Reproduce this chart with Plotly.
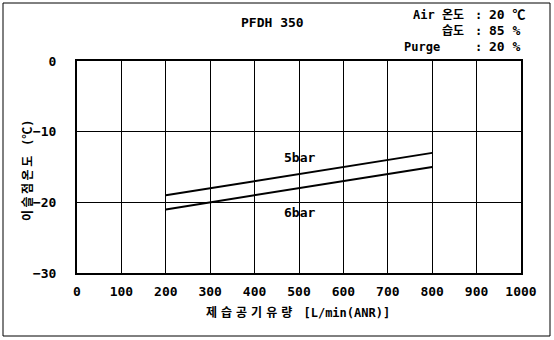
import plotly.graph_objects as go

flow_5bar = [200, 800]
dew_5bar = [-19, -13]
flow_6bar = [200, 800]
dew_6bar = [-21, -15]
x_ticks = [0, 100, 200, 300, 400, 500, 600, 700, 800, 900, 1000]
y_ticks = [0, -10, -20, -30]

FONT = "DejaVu Sans Mono, Noto Sans CJK KR"

fig = go.Figure()
fig.add_trace(go.Scatter(x=flow_5bar, y=dew_5bar, mode="lines",
                         line=dict(color="black", width=2), showlegend=False))
fig.add_trace(go.Scatter(x=flow_6bar, y=dew_6bar, mode="lines",
                         line=dict(color="black", width=2), showlegend=False))

fig.add_annotation(x=500, y=-13.6, text="<b>5bar</b>", showarrow=False,
                   font=dict(size=13, family=FONT, color="black"))
fig.add_annotation(x=500, y=-21.4, text="<b>6bar</b>", showarrow=False,
                   font=dict(size=13, family=FONT, color="black"))

L, R, T, B = 77, 521, 61, 273
def pp(text, x, y, anchor="center", rot=0, size=12):
    fig.add_annotation(x=(x - L) / (R - L), y=(B - y) / (B - T), xref="paper", yref="paper",
                       text=text, showarrow=False, xanchor=anchor, yanchor="middle",
                       textangle=rot,
                       font=dict(size=size, family=FONT, color="black"))

pp("<b>PFDH 350</b>", 272, 22, size=13)
# condition box, top right
pp("<b>Air 온도</b>", 466, 15, "right")
pp("<b>습도</b>", 466, 31, "right")
pp("<b>Purge</b>", 402, 47, "left")
for yy in (15, 31, 47):
    pp("<b>:</b>", 478, yy)
pp("<b>20 ℃</b>", 487, 15, "left", size=13)
pp("<b>85 %</b>", 487, 31, "left", size=13)
pp("<b>20 %</b>", 487, 47, "left", size=13)

pp('<b><span style="letter-spacing:2.5px">이슬점온도</span> (℃)</b>', 28, 171, "center", -90, 12)
pp('<b><span style="letter-spacing:4px">제습공기유량</span> [L/min(ANR)]</b>', 298, 312, size=12)

fig.update_xaxes(range=[0, 1000], tickvals=x_ticks, ticktext=[f"<b>{v}</b>" for v in x_ticks],
                 showgrid=True, gridcolor="black", gridwidth=1,
                 showline=True, linecolor="black", linewidth=2, mirror=True,
                 zeroline=False, ticks="", ticklabelstandoff=5,
                 tickfont=dict(size=13, family=FONT, color="black"))
fig.update_yaxes(range=[-30, 0], tickvals=y_ticks,
                 ticktext=[f"<b>{'−' if v < 0 else ''}{abs(v)}</b>" for v in y_ticks],
                 showgrid=True, gridcolor="black", gridwidth=1,
                 showline=True, linecolor="black", linewidth=2, mirror=True,
                 zeroline=False, ticks="", ticklabelstandoff=16,
                 tickfont=dict(size=13, family=FONT, color="black"))

fig.update_layout(width=554, height=340,
                  margin=dict(l=L, r=554 - R, t=T, b=340 - B),
                  plot_bgcolor="white", paper_bgcolor="white",
                  shapes=[dict(type="rect", xref="paper", yref="paper",
                               x0=(3 - L) / (R - L), x1=(550 - L) / (R - L),
                               y0=(B - 336) / (B - T), y1=(B - 3) / (B - T),
                               line=dict(color="black", width=1))])

fig.write_html("out.html")
